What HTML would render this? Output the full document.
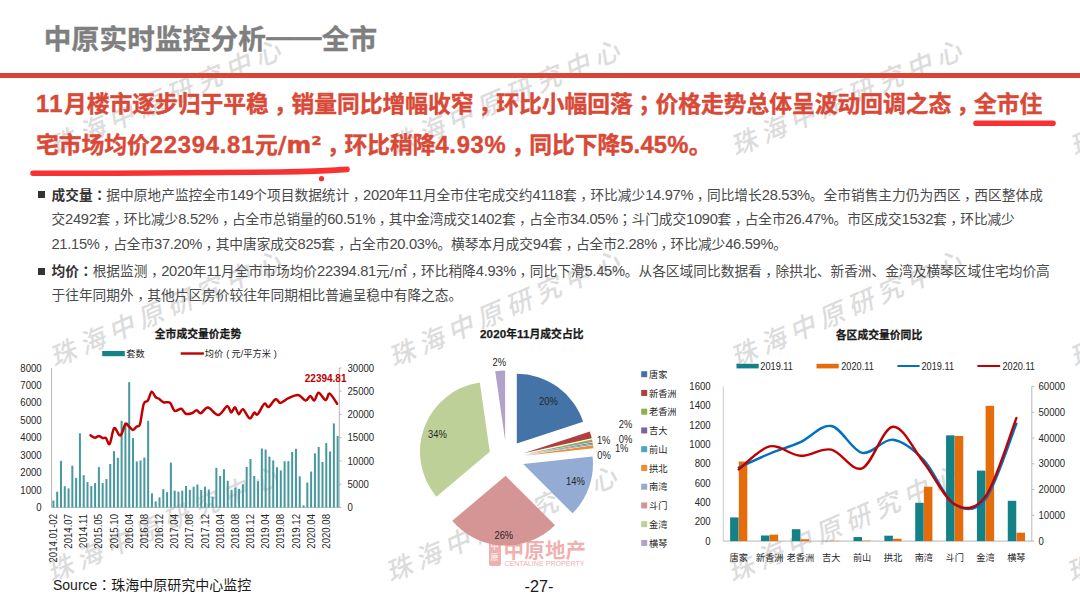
<!DOCTYPE html>
<html><head><meta charset="utf-8"><style>
*{margin:0;padding:0;box-sizing:border-box}
html,body{width:1080px;height:596px;overflow:hidden;background:#fff}
body{position:relative;font-family:'Liberation Sans','Noto Sans CJK SC',sans-serif}
.abs{position:absolute;white-space:nowrap}
#title{left:43.8px;top:17px;font-size:27.6px;font-weight:bold;color:#7f7f7f;letter-spacing:0.2px;-webkit-text-stroke:0.4px #7f7f7f}
#rule{left:0;top:73px;width:1080px;height:5px;background:#d64535}
.hl{font-size:22.75px;font-weight:bold;color:#d84a37;-webkit-text-stroke:0.4px #d84a37;left:36px}
.L{font-size:23.8px}
.M{font-size:23.8px;font-family:'DejaVu Sans',sans-serif}
.p{font-size:13.7px;color:#4a4a4a;left:51.5px;line-height:24.5px}
.d{font-size:14.7px;line-height:1;letter-spacing:-0.3px}
.p b{color:#333}
.c{font-family:'Liberation Sans','Noto Sans CJK TC',sans-serif;line-height:1}
.cm{font-family:'Liberation Sans','Noto Sans CJK TC',sans-serif;position:relative;top:0.3em;line-height:1}
.sq{position:absolute;width:7px;height:7px;background:#333}
svg{position:absolute;left:0;top:0}
</style></head><body>
<svg width="1080" height="596" style="z-index:0"><text transform="translate(54.5,156.4) rotate(-23.5)" font-size="26" letter-spacing="5.8" fill="#dcdcdc" font-weight="500" font-style="italic">珠海中原研究中心</text>
<text transform="translate(393.5,156.4) rotate(-23.5)" font-size="26" letter-spacing="5.8" fill="#dcdcdc" font-weight="500" font-style="italic">珠海中原研究中心</text>
<text transform="translate(735.5,156.4) rotate(-23.5)" font-size="26" letter-spacing="5.8" fill="#dcdcdc" font-weight="500" font-style="italic">珠海中原研究中心</text>
<text transform="translate(1074.5,156.4) rotate(-23.5)" font-size="26" letter-spacing="5.8" fill="#dcdcdc" font-weight="500" font-style="italic">珠海中原研究中心</text>
<text transform="translate(54.5,367.4) rotate(-23.5)" font-size="26" letter-spacing="5.8" fill="#dcdcdc" font-weight="500" font-style="italic">珠海中原研究中心</text>
<text transform="translate(393.5,367.4) rotate(-23.5)" font-size="26" letter-spacing="5.8" fill="#dcdcdc" font-weight="500" font-style="italic">珠海中原研究中心</text>
<text transform="translate(735.5,367.4) rotate(-23.5)" font-size="26" letter-spacing="5.8" fill="#dcdcdc" font-weight="500" font-style="italic">珠海中原研究中心</text>
<text transform="translate(1074.5,367.4) rotate(-23.5)" font-size="26" letter-spacing="5.8" fill="#dcdcdc" font-weight="500" font-style="italic">珠海中原研究中心</text>
<text transform="translate(51.5,582.4) rotate(-23.5)" font-size="26" letter-spacing="5.8" fill="#dcdcdc" font-weight="500" font-style="italic">珠海中原研究中心</text>
<text transform="translate(390.5,582.4) rotate(-23.5)" font-size="26" letter-spacing="5.8" fill="#dcdcdc" font-weight="500" font-style="italic">珠海中原研究中心</text>
<text transform="translate(732.5,582.4) rotate(-23.5)" font-size="26" letter-spacing="5.8" fill="#dcdcdc" font-weight="500" font-style="italic">珠海中原研究中心</text>
<text transform="translate(1071.5,582.4) rotate(-23.5)" font-size="26" letter-spacing="5.8" fill="#dcdcdc" font-weight="500" font-style="italic">珠海中原研究中心</text></svg>
<div class="abs" id="title">中原实时监控分析<span style="position:relative;top:-3px">——</span>全市</div>
<div class="abs" id="rule"></div>
<div class="abs hl" style="top:86px"><span class="L" style="letter-spacing:1.45px">11</span>月楼市逐步归于平稳<span class="cm">，</span>销量同比增幅收窄<span class="cm">，</span>环比小幅回落<span class="c">；</span>价格走势总体呈波动回调之态<span class="cm">，</span>全市住</div>
<div class="abs hl" style="top:127px">宅市场均价<span class="L" id="r1" style="letter-spacing:0.75px">22394.81</span>元<span class="M" id="r2">/m²</span><span class="cm">，</span>环比稍降<span class="L" id="r3" style="letter-spacing:0.7px">4.93%</span><span class="cm">，</span>同比下降<span class="L" id="r4" style="letter-spacing:0.2px">5.45%</span>。</div>
<svg width="1080" height="596" style="z-index:2">
<path d="M33,173.3 C120,173.5 240,172.8 280,172 C310,171.5 330,170.5 347,169.4" stroke="#f83232" stroke-width="5.6" fill="none" stroke-linecap="round"/>
<line x1="976" y1="123.2" x2="1053" y2="123.2" stroke="#f83232" stroke-width="5.6" stroke-linecap="round"/>
<circle cx="321.5" cy="178.7" r="2.6" fill="#f83232"/>
</svg>
<div class="sq" style="left:38px;top:190.5px"></div>
<div class="abs p" style="top:183.5px"><span style="letter-spacing:0.02px"><b>成交量<span class="c">：</span></b>据中原地产监控全市<span class="d">149</span>个项目数据统计<span class="cm">，</span><span class="d">2020</span>年<span class="d">11</span>月全市住宅成交约<span class="d">4118</span>套<span class="cm">，</span>环比减少<span class="d">14.97%</span><span class="cm">，</span>同比增长<span class="d">28.53%</span>。全市销售主力仍为西区<span class="cm">，</span>西区整体成</span><br><span style="letter-spacing:-0.085px">交<span class="d">2492</span>套<span class="cm">，</span>环比减少<span class="d">8.52%</span><span class="cm">，</span>占全市总销量的<span class="d">60.51%</span><span class="cm">，</span>其中金湾成交<span class="d">1402</span>套<span class="cm">，</span>占全市<span class="d">34.05%</span><span class="c">；</span>斗门成交<span class="d">1090</span>套<span class="cm">，</span>占全市<span class="d">26.47%</span>。市区成交<span class="d">1532</span>套<span class="cm">，</span>环比减少</span><br><span style="letter-spacing:-0.05px"><span class="d">21.15%</span><span class="cm">，</span>占全市<span class="d">37.20%</span><span class="cm">，</span>其中唐家成交<span class="d">825</span>套<span class="cm">，</span>占全市<span class="d">20.03%</span>。横琴本月成交<span class="d">94</span>套<span class="cm">，</span>占全市<span class="d">2.28%</span><span class="cm">，</span>环比减少<span class="d">46.59%</span>。</span></div>
<div class="sq" style="left:38px;top:267.5px"></div>
<div class="abs p" style="top:259.5px"><span style="letter-spacing:0.025px"><b>均价<span class="c">：</span></b>根据监测<span class="cm">，</span><span class="d">2020</span>年<span class="d">11</span>月全市市场均价<span class="d">22394.81</span>元/㎡<span class="cm">，</span>环比稍降<span class="d">4.93%</span><span class="cm">，</span>同比下滑<span class="d">5.45%</span>。从各区域同比数据看<span class="cm">，</span>除拱北、新香洲、金湾及横琴区域住宅均价高</span><br>于往年同期外<span class="cm">，</span>其他片区房价较往年同期相比普遍呈稳中有降之态。</div>
<!-- logo -->
<div class="abs" style="left:488.7px;top:540.6px;width:12px;height:25.5px;background:#efb0b0;border-radius:2px"></div>
<div class="abs" style="left:489.5px;top:541px;width:10px;font-size:8px;line-height:11px;color:#fff;text-align:center">中<br>原</div>
<div class="abs" style="left:503.5px;top:534px;font-size:20.5px;font-weight:bold;color:#efb0b0;letter-spacing:0.2px">中原地产</div>
<div class="abs" style="left:504.4px;top:559.5px;font-size:7.1px;color:#efb0b0;letter-spacing:0px;font-family:'Liberation Sans',sans-serif">CENTALINE PROPERTY</div>
<svg width="1080" height="596" style="z-index:3;font-family:'Liberation Sans','Noto Sans CJK SC',sans-serif">
<text x="198" y="337.5" font-size="10.8" font-weight="bold" fill="#1a1a1a" stroke="#1a1a1a" stroke-width="0.25" text-anchor="middle">全市成交量价走势</text>
<rect x="102.2" y="351" width="22.6" height="5.2" fill="#178286"/>
<text x="126.3" y="357.3" font-size="9.2" fill="#262626">套数</text>
<line x1="180.7" y1="353.5" x2="203.9" y2="353.5" stroke="#c00000" stroke-width="2.4"/>
<text x="204.8" y="357.3" font-size="9.2" fill="#262626">均价<tspan dx="3">(</tspan><tspan dx="2.3">元/平方米</tspan><tspan dx="3">)</tspan></text>
<line x1="51.5" y1="368.0" x2="51.5" y2="507.4" stroke="#a6a6a6" stroke-width="0.8"/>
<line x1="51.5" y1="507.4" x2="339.3" y2="507.4" stroke="#a6a6a6" stroke-width="0.8"/>
<line x1="339.3" y1="368.0" x2="339.3" y2="507.4" stroke="#a6a6a6" stroke-width="0.8"/>
<text transform="translate(41.70,511.00) scale(0.8696,1)" font-size="11.04" fill="#262626" text-anchor="end">0</text>
<text transform="translate(41.70,493.57) scale(0.8696,1)" font-size="11.04" fill="#262626" text-anchor="end">1000</text>
<text transform="translate(41.70,476.15) scale(0.8696,1)" font-size="11.04" fill="#262626" text-anchor="end">2000</text>
<text transform="translate(41.70,458.73) scale(0.8696,1)" font-size="11.04" fill="#262626" text-anchor="end">3000</text>
<text transform="translate(41.70,441.30) scale(0.8696,1)" font-size="11.04" fill="#262626" text-anchor="end">4000</text>
<text transform="translate(41.70,423.88) scale(0.8696,1)" font-size="11.04" fill="#262626" text-anchor="end">5000</text>
<text transform="translate(41.70,406.45) scale(0.8696,1)" font-size="11.04" fill="#262626" text-anchor="end">6000</text>
<text transform="translate(41.70,389.03) scale(0.8696,1)" font-size="11.04" fill="#262626" text-anchor="end">7000</text>
<text transform="translate(41.70,371.60) scale(0.8696,1)" font-size="11.04" fill="#262626" text-anchor="end">8000</text>
<line x1="339.3" y1="507.4" x2="341.5" y2="507.4" stroke="#a6a6a6" stroke-width="0.8"/>
<text transform="translate(347.50,511.00) scale(0.8696,1)" font-size="11.04" fill="#262626" text-anchor="start">0</text>
<line x1="339.3" y1="484.2" x2="341.5" y2="484.2" stroke="#a6a6a6" stroke-width="0.8"/>
<text transform="translate(347.50,487.77) scale(0.8696,1)" font-size="11.04" fill="#262626" text-anchor="start">5000</text>
<line x1="339.3" y1="460.9" x2="341.5" y2="460.9" stroke="#a6a6a6" stroke-width="0.8"/>
<text transform="translate(347.50,464.53) scale(0.8696,1)" font-size="11.04" fill="#262626" text-anchor="start">10000</text>
<line x1="339.3" y1="437.7" x2="341.5" y2="437.7" stroke="#a6a6a6" stroke-width="0.8"/>
<text transform="translate(347.50,441.30) scale(0.8696,1)" font-size="11.04" fill="#262626" text-anchor="start">15000</text>
<line x1="339.3" y1="414.5" x2="341.5" y2="414.5" stroke="#a6a6a6" stroke-width="0.8"/>
<text transform="translate(347.50,418.07) scale(0.8696,1)" font-size="11.04" fill="#262626" text-anchor="start">20000</text>
<line x1="339.3" y1="391.2" x2="341.5" y2="391.2" stroke="#a6a6a6" stroke-width="0.8"/>
<text transform="translate(347.50,394.83) scale(0.8696,1)" font-size="11.04" fill="#262626" text-anchor="start">25000</text>
<line x1="339.3" y1="368.0" x2="341.5" y2="368.0" stroke="#a6a6a6" stroke-width="0.8"/>
<text transform="translate(347.50,371.60) scale(0.8696,1)" font-size="11.04" fill="#262626" text-anchor="start">30000</text>
<rect x="52.40" y="500.50" width="2" height="6.90" fill="#46999f"/>
<rect x="56.19" y="491.70" width="2" height="15.70" fill="#46999f"/>
<rect x="59.98" y="460.90" width="2" height="46.50" fill="#46999f"/>
<rect x="63.77" y="486.20" width="2" height="21.20" fill="#46999f"/>
<rect x="67.56" y="488.40" width="2" height="19.00" fill="#46999f"/>
<rect x="71.34" y="465.70" width="2" height="41.70" fill="#46999f"/>
<rect x="75.14" y="477.90" width="2" height="29.50" fill="#46999f"/>
<rect x="78.92" y="433.30" width="2" height="74.10" fill="#46999f"/>
<rect x="82.72" y="475.20" width="2" height="32.20" fill="#46999f"/>
<rect x="86.50" y="482.10" width="2" height="25.30" fill="#46999f"/>
<rect x="90.30" y="486.00" width="2" height="21.40" fill="#46999f"/>
<rect x="94.09" y="483.10" width="2" height="24.30" fill="#46999f"/>
<rect x="97.88" y="467.10" width="2" height="40.30" fill="#46999f"/>
<rect x="101.66" y="483.10" width="2" height="24.30" fill="#46999f"/>
<rect x="105.45" y="479.00" width="2" height="28.40" fill="#46999f"/>
<rect x="109.25" y="464.00" width="2" height="43.40" fill="#46999f"/>
<rect x="113.03" y="451.20" width="2" height="56.20" fill="#46999f"/>
<rect x="116.83" y="457.80" width="2" height="49.60" fill="#46999f"/>
<rect x="120.61" y="420.80" width="2" height="86.60" fill="#46999f"/>
<rect x="124.41" y="422.40" width="2" height="85.00" fill="#46999f"/>
<rect x="128.19" y="382.20" width="2" height="125.20" fill="#46999f"/>
<rect x="131.99" y="438.10" width="2" height="69.30" fill="#46999f"/>
<rect x="135.78" y="461.40" width="2" height="46.00" fill="#46999f"/>
<rect x="139.56" y="460.50" width="2" height="46.90" fill="#46999f"/>
<rect x="143.36" y="457.60" width="2" height="49.80" fill="#46999f"/>
<rect x="147.14" y="420.80" width="2" height="86.60" fill="#46999f"/>
<rect x="150.94" y="493.40" width="2" height="14.00" fill="#46999f"/>
<rect x="154.72" y="501.40" width="2" height="6.00" fill="#46999f"/>
<rect x="158.51" y="497.40" width="2" height="10.00" fill="#46999f"/>
<rect x="162.31" y="489.10" width="2" height="18.30" fill="#46999f"/>
<rect x="166.09" y="492.20" width="2" height="15.20" fill="#46999f"/>
<rect x="169.88" y="462.60" width="2" height="44.80" fill="#46999f"/>
<rect x="173.68" y="490.70" width="2" height="16.70" fill="#46999f"/>
<rect x="177.47" y="491.70" width="2" height="15.70" fill="#46999f"/>
<rect x="181.25" y="490.70" width="2" height="16.70" fill="#46999f"/>
<rect x="185.04" y="486.00" width="2" height="21.40" fill="#46999f"/>
<rect x="188.84" y="489.80" width="2" height="17.60" fill="#46999f"/>
<rect x="192.62" y="486.70" width="2" height="20.70" fill="#46999f"/>
<rect x="196.41" y="484.50" width="2" height="22.90" fill="#46999f"/>
<rect x="200.21" y="490.00" width="2" height="17.40" fill="#46999f"/>
<rect x="204.00" y="486.70" width="2" height="20.70" fill="#46999f"/>
<rect x="207.78" y="489.50" width="2" height="17.90" fill="#46999f"/>
<rect x="211.57" y="496.90" width="2" height="10.50" fill="#46999f"/>
<rect x="215.37" y="467.80" width="2" height="39.60" fill="#46999f"/>
<rect x="219.16" y="475.90" width="2" height="31.50" fill="#46999f"/>
<rect x="222.94" y="469.30" width="2" height="38.10" fill="#46999f"/>
<rect x="226.74" y="480.70" width="2" height="26.70" fill="#46999f"/>
<rect x="230.53" y="489.80" width="2" height="17.60" fill="#46999f"/>
<rect x="234.31" y="487.60" width="2" height="19.80" fill="#46999f"/>
<rect x="238.10" y="488.80" width="2" height="18.60" fill="#46999f"/>
<rect x="241.90" y="484.30" width="2" height="23.10" fill="#46999f"/>
<rect x="245.69" y="466.90" width="2" height="40.50" fill="#46999f"/>
<rect x="249.47" y="459.00" width="2" height="48.40" fill="#46999f"/>
<rect x="253.27" y="475.90" width="2" height="31.50" fill="#46999f"/>
<rect x="257.06" y="481.20" width="2" height="26.20" fill="#46999f"/>
<rect x="260.85" y="448.50" width="2" height="58.90" fill="#46999f"/>
<rect x="264.63" y="449.50" width="2" height="57.90" fill="#46999f"/>
<rect x="268.43" y="456.60" width="2" height="50.80" fill="#46999f"/>
<rect x="272.22" y="460.40" width="2" height="47.00" fill="#46999f"/>
<rect x="276.00" y="467.20" width="2" height="40.20" fill="#46999f"/>
<rect x="279.80" y="470.40" width="2" height="37.00" fill="#46999f"/>
<rect x="283.59" y="461.20" width="2" height="46.20" fill="#46999f"/>
<rect x="287.38" y="461.20" width="2" height="46.20" fill="#46999f"/>
<rect x="291.16" y="452.10" width="2" height="55.30" fill="#46999f"/>
<rect x="294.96" y="448.80" width="2" height="58.60" fill="#46999f"/>
<rect x="298.75" y="476.30" width="2" height="31.10" fill="#46999f"/>
<rect x="302.53" y="505.40" width="2" height="2.00" fill="#46999f"/>
<rect x="306.32" y="482.50" width="2" height="24.90" fill="#46999f"/>
<rect x="310.12" y="471.50" width="2" height="35.90" fill="#46999f"/>
<rect x="313.91" y="453.30" width="2" height="54.10" fill="#46999f"/>
<rect x="317.69" y="447.00" width="2" height="60.40" fill="#46999f"/>
<rect x="321.49" y="461.90" width="2" height="45.50" fill="#46999f"/>
<rect x="325.27" y="443.10" width="2" height="64.30" fill="#46999f"/>
<rect x="329.06" y="451.50" width="2" height="55.90" fill="#46999f"/>
<rect x="332.86" y="423.40" width="2" height="84.00" fill="#46999f"/>
<rect x="336.64" y="436.00" width="2" height="71.40" fill="#46999f"/>
<path d="M90.60,435.40 C91.33,435.80 93.62,437.72 95.00,437.80 C96.38,437.88 97.63,435.85 98.90,435.90 C100.17,435.95 101.43,437.75 102.60,438.10 C103.77,438.45 104.72,437.02 105.90,438.00 C107.08,438.98 108.33,445.63 109.70,444.00 C111.07,442.37 112.53,429.72 114.10,428.20 C115.67,426.68 117.85,433.97 119.10,434.90 C120.35,435.83 120.53,435.62 121.60,433.80 C122.67,431.98 124.27,425.23 125.50,424.00 C126.73,422.77 127.77,425.42 129.00,426.40 C130.23,427.38 131.62,429.87 132.90,429.90 C134.18,429.93 135.52,427.58 136.70,426.60 C137.88,425.62 138.83,427.75 140.00,424.00 C141.17,420.25 142.40,408.00 143.70,404.10 C145.00,400.20 146.47,402.67 147.80,400.60 C149.13,398.53 150.42,392.30 151.70,391.70 C152.98,391.10 154.28,395.82 155.50,397.00 C156.72,398.18 157.67,397.92 159.00,398.80 C160.33,399.68 161.67,401.65 163.50,402.30 C165.33,402.95 168.15,401.28 170.00,402.70 C171.85,404.12 172.72,409.79 174.60,410.80 C176.47,411.81 179.38,408.26 181.25,408.75 C183.12,409.24 184.06,412.99 185.80,413.75 C187.54,414.51 189.88,413.89 191.70,413.30 C193.52,412.71 195.18,410.20 196.70,410.20 C198.22,410.20 198.93,413.75 200.80,413.30 C202.67,412.85 204.98,407.22 207.90,407.50 C210.82,407.78 215.10,415.21 218.30,415.00 C221.50,414.79 224.94,406.67 227.10,406.25 C229.26,405.83 229.93,412.32 231.25,412.50 C232.57,412.68 233.75,407.02 235.00,407.30 C236.25,407.58 237.43,413.88 238.75,414.20 C240.07,414.52 241.09,408.52 242.90,409.20 C244.71,409.88 247.70,417.73 249.60,418.30 C251.50,418.87 252.98,413.25 254.30,412.60 C255.62,411.95 255.82,415.87 257.50,414.40 C259.18,412.93 262.55,405.03 264.40,403.80 C266.25,402.57 266.73,407.77 268.60,407.00 C270.47,406.23 273.60,399.88 275.60,399.20 C277.60,398.52 278.45,403.07 280.60,402.90 C282.75,402.73 285.57,399.52 288.50,398.20 C291.43,396.88 295.35,394.60 298.20,395.00 C301.05,395.40 303.58,400.45 305.60,400.60 C307.62,400.75 308.85,395.90 310.30,395.90 C311.75,395.90 312.92,401.13 314.30,400.60 C315.68,400.07 316.72,392.78 318.60,392.70 C320.48,392.62 323.75,399.95 325.60,400.10 C327.45,400.25 327.78,392.98 329.70,393.60 C331.62,394.22 335.87,402.10 337.10,403.80" fill="none" stroke="#c00000" stroke-width="2.5" stroke-linejoin="round" stroke-linecap="round"/>
<text transform="translate(304.80,382.20) scale(0.8696,1)" font-size="11.50" fill="#c00000" text-anchor="start" font-weight="bold">22394.81</text>
<text transform="translate(57.00,514.00) rotate(-90) scale(0.8696,1)" font-size="11.04" fill="#262626" text-anchor="end">2014.01-02</text>
<text transform="translate(72.16,514.00) rotate(-90) scale(0.8696,1)" font-size="11.04" fill="#262626" text-anchor="end">2014.07</text>
<text transform="translate(87.31,514.00) rotate(-90) scale(0.8696,1)" font-size="11.04" fill="#262626" text-anchor="end">2014.11</text>
<text transform="translate(102.47,514.00) rotate(-90) scale(0.8696,1)" font-size="11.04" fill="#262626" text-anchor="end">2015.05</text>
<text transform="translate(117.63,514.00) rotate(-90) scale(0.8696,1)" font-size="11.04" fill="#262626" text-anchor="end">2015.10</text>
<text transform="translate(132.79,514.00) rotate(-90) scale(0.8696,1)" font-size="11.04" fill="#262626" text-anchor="end">2016.04</text>
<text transform="translate(147.96,514.00) rotate(-90) scale(0.8696,1)" font-size="11.04" fill="#262626" text-anchor="end">2016.08</text>
<text transform="translate(163.11,514.00) rotate(-90) scale(0.8696,1)" font-size="11.04" fill="#262626" text-anchor="end">2016.12</text>
<text transform="translate(178.28,514.00) rotate(-90) scale(0.8696,1)" font-size="11.04" fill="#262626" text-anchor="end">2017.04</text>
<text transform="translate(193.44,514.00) rotate(-90) scale(0.8696,1)" font-size="11.04" fill="#262626" text-anchor="end">2017.08</text>
<text transform="translate(208.59,514.00) rotate(-90) scale(0.8696,1)" font-size="11.04" fill="#262626" text-anchor="end">2017.12</text>
<text transform="translate(223.75,514.00) rotate(-90) scale(0.8696,1)" font-size="11.04" fill="#262626" text-anchor="end">2018.04</text>
<text transform="translate(238.91,514.00) rotate(-90) scale(0.8696,1)" font-size="11.04" fill="#262626" text-anchor="end">2018.08</text>
<text transform="translate(254.07,514.00) rotate(-90) scale(0.8696,1)" font-size="11.04" fill="#262626" text-anchor="end">2018.12</text>
<text transform="translate(269.24,514.00) rotate(-90) scale(0.8696,1)" font-size="11.04" fill="#262626" text-anchor="end">2019.04</text>
<text transform="translate(284.40,514.00) rotate(-90) scale(0.8696,1)" font-size="11.04" fill="#262626" text-anchor="end">2019.08</text>
<text transform="translate(299.56,514.00) rotate(-90) scale(0.8696,1)" font-size="11.04" fill="#262626" text-anchor="end">2019.12</text>
<text transform="translate(314.72,514.00) rotate(-90) scale(0.8696,1)" font-size="11.04" fill="#262626" text-anchor="end">2020.04</text>
<text transform="translate(329.88,514.00) rotate(-90) scale(0.8696,1)" font-size="11.04" fill="#262626" text-anchor="end">2020.08</text>
<path d="M516.83,443.58 L516.83,373.78 A69.8,69.8 0 0 1 583.13,421.75 Z" fill="#4473a8"/>
<path d="M523.57,453.30 L589.87,431.47 A69.8,69.8 0 0 1 591.74,438.31 Z" fill="#b0403d"/>
<path d="M523.85,454.51 L592.03,439.52 A69.8,69.8 0 0 1 592.55,442.12 Z" fill="#8fae4b"/>
<path d="M523.94,454.95 L592.63,442.56 A69.8,69.8 0 0 1 592.77,443.40 Z" fill="#7a64a0"/>
<path d="M523.98,455.19 L592.81,443.64 A69.8,69.8 0 0 1 592.98,444.68 Z" fill="#4aa6c2"/>
<path d="M524.05,455.72 L593.06,445.22 A69.8,69.8 0 0 1 593.47,448.37 Z" fill="#f08b2f"/>
<path d="M523.18,463.94 L592.59,456.59 A69.8,69.8 0 0 1 572.52,513.31 Z" fill="#94acd3"/>
<path d="M505.64,475.78 L554.98,525.16 A69.8,69.8 0 0 1 452.29,520.79 Z" fill="#d49594"/>
<path d="M489.76,451.67 L436.41,496.67 A69.8,69.8 0 0 1 479.84,382.58 Z" fill="#bdd098"/>
<path d="M505.13,440.25 L495.20,371.16 A69.8,69.8 0 0 1 505.13,370.45 Z" fill="#b3a2c7"/>
<text x="531.8" y="337.5" font-size="10.8" font-weight="bold" fill="#1a1a1a" stroke="#1a1a1a" stroke-width="0.25" text-anchor="middle"><tspan font-size="11.6" letter-spacing="0.1">2020</tspan>年<tspan font-size="11.6" letter-spacing="0.1">11</tspan>月成交占比</text>
<text transform="translate(548.50,404.50) scale(0.8696,1)" font-size="10.81" fill="#262626" text-anchor="middle">20%</text>
<text transform="translate(437.50,438.00) scale(0.8696,1)" font-size="10.81" fill="#262626" text-anchor="middle">34%</text>
<text transform="translate(566.00,484.80) scale(0.8696,1)" font-size="10.81" fill="#262626" text-anchor="start">14%</text>
<text transform="translate(503.80,539.00) scale(0.8696,1)" font-size="10.81" fill="#262626" text-anchor="middle">26%</text>
<text transform="translate(492.60,366.00) scale(0.8696,1)" font-size="10.81" fill="#262626" text-anchor="start">2%</text>
<text transform="translate(618.70,428.00) scale(0.8696,1)" font-size="10.81" fill="#262626" text-anchor="start">2%</text>
<text transform="translate(596.90,444.00) scale(0.8696,1)" font-size="10.81" fill="#262626" text-anchor="start">1%</text>
<text transform="translate(618.70,442.70) scale(0.8696,1)" font-size="10.81" fill="#262626" text-anchor="start">0%</text>
<text transform="translate(614.90,452.00) scale(0.8696,1)" font-size="10.81" fill="#262626" text-anchor="start">1%</text>
<text transform="translate(597.30,459.00) scale(0.8696,1)" font-size="10.81" fill="#262626" text-anchor="start">0%</text>
<rect x="641.2" y="371.20" width="6" height="6" fill="#4473a8"/>
<text x="649" y="377.80" font-size="9.2" fill="#262626">唐家</text>
<rect x="641.2" y="389.95" width="6" height="6" fill="#b0403d"/>
<text x="649" y="396.55" font-size="9.2" fill="#262626">新香洲</text>
<rect x="641.2" y="408.70" width="6" height="6" fill="#8fae4b"/>
<text x="649" y="415.30" font-size="9.2" fill="#262626">老香洲</text>
<rect x="641.2" y="427.45" width="6" height="6" fill="#7a64a0"/>
<text x="649" y="434.05" font-size="9.2" fill="#262626">吉大</text>
<rect x="641.2" y="446.20" width="6" height="6" fill="#4aa6c2"/>
<text x="649" y="452.80" font-size="9.2" fill="#262626">前山</text>
<rect x="641.2" y="464.95" width="6" height="6" fill="#f08b2f"/>
<text x="649" y="471.55" font-size="9.2" fill="#262626">拱北</text>
<rect x="641.2" y="483.70" width="6" height="6" fill="#94acd3"/>
<text x="649" y="490.30" font-size="9.2" fill="#262626">南湾</text>
<rect x="641.2" y="502.45" width="6" height="6" fill="#d49594"/>
<text x="649" y="509.05" font-size="9.2" fill="#262626">斗门</text>
<rect x="641.2" y="521.20" width="6" height="6" fill="#bdd098"/>
<text x="649" y="527.80" font-size="9.2" fill="#262626">金湾</text>
<rect x="641.2" y="539.95" width="6" height="6" fill="#b3a2c7"/>
<text x="649" y="546.55" font-size="9.2" fill="#262626">横琴</text>
<text x="879" y="338.5" font-size="10.8" font-weight="bold" fill="#1a1a1a" stroke="#1a1a1a" stroke-width="0.25" text-anchor="middle">各区成交量价同比</text>
<rect x="736.5" y="363.8" width="22.2" height="4.6" fill="#138186"/>
<text transform="translate(760.30,369.60) scale(0.8696,1)" font-size="10.58" fill="#262626" text-anchor="start">2019.11</text>
<rect x="816.5" y="363.8" width="22.2" height="4.6" fill="#e46c0a"/>
<text transform="translate(841.20,369.60) scale(0.8696,1)" font-size="10.58" fill="#262626" text-anchor="start">2020.11</text>
<line x1="897.4" y1="366" x2="919.6" y2="366" stroke="#0070c0" stroke-width="2"/>
<text transform="translate(921.50,369.60) scale(0.8696,1)" font-size="10.58" fill="#262626" text-anchor="start">2019.11</text>
<line x1="977.4" y1="366" x2="1000.2" y2="366" stroke="#c00000" stroke-width="2"/>
<text transform="translate(1002.40,369.60) scale(0.8696,1)" font-size="10.58" fill="#262626" text-anchor="start">2020.11</text>
<line x1="723.3" y1="386.4" x2="723.3" y2="541.1" stroke="#bfbfbf" stroke-width="0.8"/>
<line x1="723.3" y1="541.1" x2="1031.8" y2="541.1" stroke="#a6a6a6" stroke-width="0.8"/>
<line x1="1031.8" y1="386.4" x2="1031.8" y2="541.1" stroke="#a6a6a6" stroke-width="0.8"/>
<text transform="translate(710.70,544.70) scale(0.8696,1)" font-size="11.04" fill="#262626" text-anchor="end">0</text>
<text transform="translate(710.70,525.36) scale(0.8696,1)" font-size="11.04" fill="#262626" text-anchor="end">200</text>
<text transform="translate(710.70,506.03) scale(0.8696,1)" font-size="11.04" fill="#262626" text-anchor="end">400</text>
<text transform="translate(710.70,486.69) scale(0.8696,1)" font-size="11.04" fill="#262626" text-anchor="end">600</text>
<text transform="translate(710.70,467.35) scale(0.8696,1)" font-size="11.04" fill="#262626" text-anchor="end">800</text>
<text transform="translate(710.70,448.01) scale(0.8696,1)" font-size="11.04" fill="#262626" text-anchor="end">1000</text>
<text transform="translate(710.70,428.68) scale(0.8696,1)" font-size="11.04" fill="#262626" text-anchor="end">1200</text>
<text transform="translate(710.70,409.34) scale(0.8696,1)" font-size="11.04" fill="#262626" text-anchor="end">1400</text>
<text transform="translate(710.70,390.00) scale(0.8696,1)" font-size="11.04" fill="#262626" text-anchor="end">1600</text>
<line x1="1031.8" y1="541.1" x2="1034.3" y2="541.1" stroke="#a6a6a6" stroke-width="0.8"/>
<text transform="translate(1038.50,544.70) scale(0.8696,1)" font-size="11.04" fill="#262626" text-anchor="start">0</text>
<line x1="1031.8" y1="515.3" x2="1034.3" y2="515.3" stroke="#a6a6a6" stroke-width="0.8"/>
<text transform="translate(1038.50,518.92) scale(0.8696,1)" font-size="11.04" fill="#262626" text-anchor="start">10000</text>
<line x1="1031.8" y1="489.5" x2="1034.3" y2="489.5" stroke="#a6a6a6" stroke-width="0.8"/>
<text transform="translate(1038.50,493.13) scale(0.8696,1)" font-size="11.04" fill="#262626" text-anchor="start">20000</text>
<line x1="1031.8" y1="463.8" x2="1034.3" y2="463.8" stroke="#a6a6a6" stroke-width="0.8"/>
<text transform="translate(1038.50,467.35) scale(0.8696,1)" font-size="11.04" fill="#262626" text-anchor="start">30000</text>
<line x1="1031.8" y1="438.0" x2="1034.3" y2="438.0" stroke="#a6a6a6" stroke-width="0.8"/>
<text transform="translate(1038.50,441.57) scale(0.8696,1)" font-size="11.04" fill="#262626" text-anchor="start">40000</text>
<line x1="1031.8" y1="412.2" x2="1034.3" y2="412.2" stroke="#a6a6a6" stroke-width="0.8"/>
<text transform="translate(1038.50,415.78) scale(0.8696,1)" font-size="11.04" fill="#262626" text-anchor="start">50000</text>
<line x1="1031.8" y1="386.4" x2="1034.3" y2="386.4" stroke="#a6a6a6" stroke-width="0.8"/>
<text transform="translate(1038.50,390.00) scale(0.8696,1)" font-size="11.04" fill="#262626" text-anchor="start">60000</text>
<rect x="730.12" y="517.41" width="8.5" height="23.69" fill="#138186"/>
<rect x="738.82" y="461.53" width="8.5" height="79.57" fill="#e46c0a"/>
<text x="738.72" y="560.5" font-size="9.2" fill="#262626" text-anchor="middle">唐家</text>
<rect x="760.97" y="535.49" width="8.5" height="5.61" fill="#138186"/>
<rect x="769.67" y="534.62" width="8.5" height="6.48" fill="#e46c0a"/>
<text x="769.57" y="560.5" font-size="9.2" fill="#262626" text-anchor="middle">新香洲</text>
<rect x="791.82" y="529.21" width="8.5" height="11.89" fill="#138186"/>
<rect x="800.52" y="539.26" width="8.5" height="1.84" fill="#e46c0a"/>
<text x="800.42" y="560.5" font-size="9.2" fill="#262626" text-anchor="middle">老香洲</text>
<rect x="822.67" y="540.91" width="8.5" height="0.19" fill="#138186"/>
<rect x="831.38" y="540.81" width="8.5" height="0.29" fill="#e46c0a"/>
<text x="831.27" y="560.5" font-size="9.2" fill="#262626" text-anchor="middle">吉大</text>
<rect x="853.52" y="537.04" width="8.5" height="4.06" fill="#138186"/>
<rect x="862.23" y="540.62" width="8.5" height="0.48" fill="#e46c0a"/>
<text x="862.12" y="560.5" font-size="9.2" fill="#262626" text-anchor="middle">前山</text>
<rect x="884.37" y="535.69" width="8.5" height="5.41" fill="#138186"/>
<rect x="893.07" y="538.78" width="8.5" height="2.32" fill="#e46c0a"/>
<text x="892.97" y="560.5" font-size="9.2" fill="#262626" text-anchor="middle">拱北</text>
<rect x="915.22" y="502.81" width="8.5" height="38.29" fill="#138186"/>
<rect x="923.92" y="486.76" width="8.5" height="54.34" fill="#e46c0a"/>
<text x="923.82" y="560.5" font-size="9.2" fill="#262626" text-anchor="middle">南湾</text>
<rect x="946.07" y="435.32" width="8.5" height="105.78" fill="#138186"/>
<rect x="954.77" y="436.00" width="8.5" height="105.10" fill="#e46c0a"/>
<text x="954.67" y="560.5" font-size="9.2" fill="#262626" text-anchor="middle">斗门</text>
<rect x="976.92" y="470.61" width="8.5" height="70.49" fill="#138186"/>
<rect x="985.62" y="405.83" width="8.5" height="135.27" fill="#e46c0a"/>
<text x="985.52" y="560.5" font-size="9.2" fill="#262626" text-anchor="middle">金湾</text>
<rect x="1007.77" y="500.78" width="8.5" height="40.32" fill="#138186"/>
<rect x="1016.48" y="532.69" width="8.5" height="8.41" fill="#e46c0a"/>
<text x="1016.38" y="560.5" font-size="9.2" fill="#262626" text-anchor="middle">横琴</text>
<path d="M738.72,467.60 C743.87,465.29 759.29,457.98 769.57,453.75 C779.86,449.52 790.14,446.82 800.42,442.20 C810.71,437.57 820.99,424.23 831.27,426.00 C841.56,427.77 851.84,450.52 862.12,452.80 C872.41,455.08 882.69,438.48 892.97,439.70 C903.26,440.92 913.54,449.32 923.82,460.10 C934.11,470.88 944.39,497.92 954.67,504.40 C964.96,510.88 975.24,512.45 985.52,499.00 C995.81,485.55 1011.23,436.25 1016.38,423.70" fill="none" stroke="#0070c0" stroke-width="2.4" stroke-linecap="round"/>
<path d="M738.72,469.40 C743.87,465.57 759.29,448.67 769.57,446.40 C779.86,444.13 790.14,455.27 800.42,455.80 C810.71,456.33 820.99,447.52 831.27,449.60 C841.56,451.68 851.84,472.12 862.12,468.30 C872.41,464.48 882.69,427.62 892.97,426.70 C903.26,425.78 913.54,449.88 923.82,462.80 C934.11,475.72 944.39,498.60 954.67,504.20 C964.96,509.80 975.24,510.75 985.52,496.40 C995.81,482.05 1011.23,431.15 1016.38,418.10" fill="none" stroke="#c00000" stroke-width="2.4" stroke-linecap="round"/>
</svg>
<div class="abs" style="left:53px;top:574px;font-size:14px;color:#1a1a1a">Source<span class="c">：</span>珠海中原研究中心监控</div>
<div class="abs" style="left:524.6px;top:577px;font-size:16.2px;color:#1a1a1a;font-family:'Liberation Sans',sans-serif">-27-</div>
</body></html>
